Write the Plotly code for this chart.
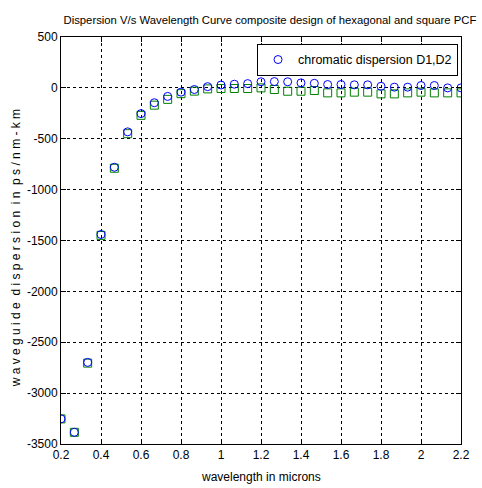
import plotly.graph_objects as go

# wavelength in microns (31 samples, step 1/15)
wavelength = [0.2, 0.2667, 0.3333, 0.4, 0.4667, 0.5333, 0.6, 0.6667, 0.7333, 0.8,
              0.8667, 0.9333, 1.0, 1.0667, 1.1333, 1.2, 1.2667, 1.3333, 1.4, 1.4667,
              1.5333, 1.6, 1.6667, 1.7333, 1.8, 1.8667, 1.9333, 2.0, 2.0667, 2.1333, 2.2]

# D1 (circles)
d1 = [-3253, -3385, -2698, -1441, -780, -432, -253, -146, -84, -42,
      -16, 12, 28, 36, 42, 60, 62, 60, 49, 45,
      33, 33, 30, 30, 16, 7, 7, 23, 23, 0, 0]

# D2 (squares)
d2 = [-3253, -3385, -2705, -1450, -790, -450, -270, -170, -113, -57,
      -32, -10, -6, -6, -6, 0, -16, -33, -33, -26,
      -49, -49, -42, -42, -59, -59, -49, -42, -49, -49, -49]

x_ticks = [0.2, 0.4, 0.6, 0.8, 1.0, 1.2, 1.4, 1.6, 1.8, 2.0, 2.2]
x_tick_text = ["0.2", "0.4", "0.6", "0.8", "1", "1.2", "1.4", "1.6", "1.8", "2", "2.2"]
y_ticks = [500, 0, -500, -1000, -1500, -2000, -2500, -3000, -3500]
y_tick_text = ["500", "0", "-500", "-1000", "-1500", "-2000", "-2500", "-3000", "-3500"]

FONT = "Liberation Sans, Arial, sans-serif"

fig = go.Figure()
fig.add_trace(go.Scatter(
    x=wavelength, y=d2, mode="markers", name="D2", showlegend=False,
    marker=dict(symbol="square-open", size=8, color="#008000", line=dict(width=1)),
))
fig.add_trace(go.Scatter(
    x=wavelength, y=d1, mode="markers", name="chromatic dispersion D1,D2",
    marker=dict(symbol="circle-open", size=8, color="#0000FF", line=dict(width=1)),
))

axis_common = dict(
    showline=True, linecolor="black", linewidth=1, mirror="ticks",
    ticks="inside", ticklen=5, tickcolor="black",
    showgrid=True, gridcolor="black", gridwidth=1, griddash="dot",
    zeroline=False, tickfont=dict(family=FONT, size=12, color="black"),
)

fig.update_layout(
    width=482, height=488,
    margin=dict(l=61, r=15, t=37, b=44),
    paper_bgcolor="white", plot_bgcolor="white",
    font=dict(family=FONT, size=12, color="black"),
    title=dict(text="Dispersion V/s Wavelength Curve composite design of hexagonal and square PCF",
               x=0.56, xanchor="center", y=1 - 20 / 488, yanchor="middle", yref="container",
               font=dict(family=FONT, size=11.3, color="black")),
    xaxis=dict(range=[0.2, 2.2], tickvals=x_ticks, ticktext=x_tick_text, **axis_common),
    yaxis=dict(range=[-3500, 500], tickvals=y_ticks, ticktext=y_tick_text, **axis_common),
    legend=dict(x=0.9926, xanchor="right", y=0.983, yanchor="top",
                bgcolor="white", bordercolor="black", borderwidth=1,
                font=dict(family=FONT, size=12.5, color="black")),
    annotations=[
        dict(text="wavelength in microns", xref="paper", yref="paper",
             x=0.5, y=-(477 - 444) / 407, xanchor="center", yanchor="middle",
             showarrow=False, font=dict(family=FONT, size=12)),
        dict(text="w a v e g u i d e  d i s p e r s i o n  i n  p s / n m - k m", xref="paper", yref="paper",
             x=-(61 - 15) / 406, y=0.48, xanchor="center", yanchor="middle", textangle=-90,
             showarrow=False, font=dict(family=FONT, size=12)),
    ],
)

fig.write_html("out.html")
